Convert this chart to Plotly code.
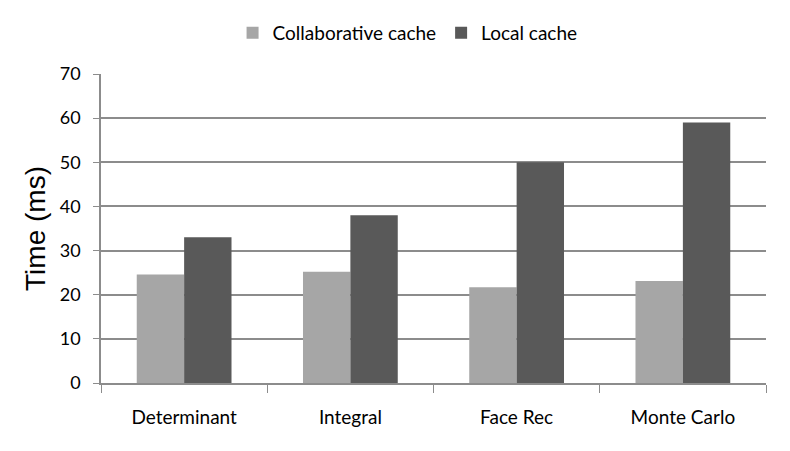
import plotly.graph_objects as go

categories = ["Determinant", "Integral", "Face Rec", "Monte Carlo"]
collab_cache = [24.6, 25.2, 21.7, 23.1]
local_cache = [33.0, 38.0, 50.0, 59.0]
y_ticks = [0, 10, 20, 30, 40, 50, 60, 70]

GRID = "#8c8c8c"

fig = go.Figure()
fig.add_trace(go.Bar(x=categories, y=collab_cache, name="Collaborative cache",
                     marker=dict(color="#a6a6a6", line=dict(width=0))))
fig.add_trace(go.Bar(x=categories, y=local_cache, name="Local cache",
                     marker=dict(color="#595959", line=dict(width=0))))

# page body has an 8px margin, so the figure is a bit smaller than the window
fig.update_layout(
    width=782, height=443,
    margin=dict(l=93, r=24, t=66, b=68, autoexpand=False),
    paper_bgcolor="white", plot_bgcolor="white",
    barmode="group", bargap=0.43, bargroupgap=0,
    font=dict(family="Lato, Open Sans, sans-serif", size=18, color="#000"),
    legend=dict(orientation="h", x=0.461, xanchor="center", y=0.944, yanchor="middle",
                yref="container", font=dict(size=19), itemwidth=30,
                traceorder="normal"),
    showlegend=True,
)

fig.update_xaxes(
    showgrid=False, showline=True, linecolor=GRID, linewidth=1.5,
    ticks="outside", tickson="boundaries", ticklen=8, tickcolor=GRID,
    ticklabelstandoff=16, tickfont=dict(size=19), automargin=False,
)
fig.update_yaxes(
    range=[0, 70], tickvals=y_ticks, showgrid=True, gridcolor=GRID, gridwidth=1.5,
    showline=True, linecolor=GRID, linewidth=1.5, zeroline=False,
    ticks="outside", ticklen=6, tickcolor=GRID, ticklabelstandoff=9,
    automargin=False,
    title=dict(text="Time (ms)", font=dict(family="Liberation Sans, Arial", size=28),
               standoff=6),
)

fig.write_html("out.html")
